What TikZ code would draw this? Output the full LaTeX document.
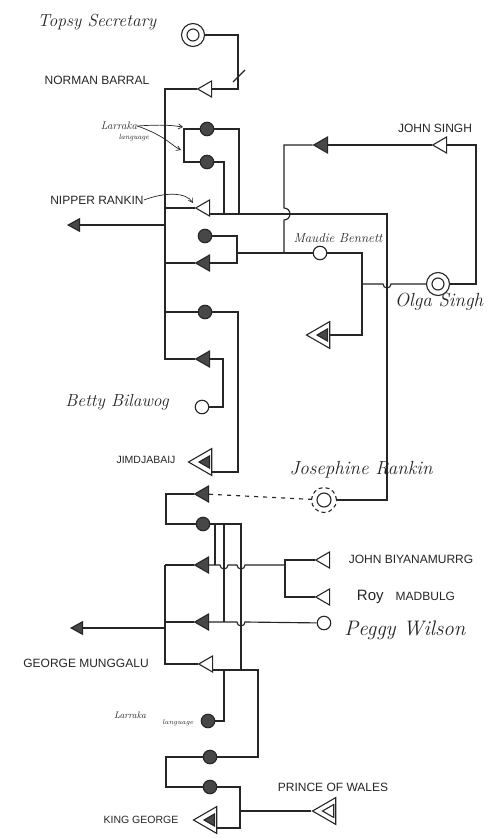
\documentclass[tikz,border=0pt]{standalone}
\usepackage{fontspec}
\setsansfont{Liberation Sans}
\usetikzlibrary{shapes.geometric,arrows.meta,calc}
\definecolor{ink}{HTML}{262626}
\definecolor{darkfill}{HTML}{474747}
\tikzset{
  ln/.style={draw=ink, line width=1.15pt},
  tri/.style={regular polygon, regular polygon sides=3, shape border rotate=90, draw=ink, line width=1.1pt, inner sep=0pt, minimum size=18.6pt, fill=white},
  opentri/.style={tri},
  darktri/.style={tri, fill=darkfill},
  bigtri/.style={tri, minimum size=31pt},
  innerdark/.style={tri, minimum size=14pt, fill=darkfill},
  inneropen/.style={tri, minimum size=15pt, fill=white},
  pcirc/.style={circle, draw=ink, line width=1.1pt, minimum size=13.5pt, inner sep=0pt},
  darkcirc/.style={pcirc, fill=darkfill},
  opencirc/.style={pcirc, fill=white},
  dblcirc/.style={circle, draw=ink, line width=1.1pt, minimum size=23pt, inner sep=0pt, fill=white,
     path picture={\draw[ink, line width=1.1pt] (path picture bounding box.center) circle (6pt);}},
  dashcirc/.style={circle, draw=ink, line width=1.1pt, dash pattern=on 4pt off 3pt, minimum size=25pt, inner sep=0pt, fill=white,
     path picture={\draw[ink, line width=1.1pt, solid] (path picture bounding box.center) circle (7pt);}},
  arr/.style={ln, -{Triangle[length=13pt,width=14pt,fill=darkfill]}},
  note/.style={draw=ink, line width=0.7pt, -{Straight Barb[length=4pt,width=5pt]}},
  caplab/.style={font=\sffamily\fontsize{12}{12}\selectfont, text=ink, inner sep=0pt},
  smallcap/.style={font=\sffamily\fontsize{10.5}{10.5}\selectfont, text=ink, inner sep=0pt},
  hand/.style={font=\itshape\fontsize{17.5}{17.5}\selectfont, text=ink, inner sep=0pt},
}
\begin{document}
\begin{tikzpicture}[x=1pt,y=-1pt]
\fill[white] (0,0) rectangle (491,838);
\useasboundingbox (0,0) rectangle (491,838);

% ---------- people ----------
\node[dblcirc] (topsy) at (193,35) {};
\node[opentri] (norman) at (207,89) {};
\node[darkcirc] (lar1) at (207,129) {};
\node[darkcirc] (lar2) at (207,162) {};
\node[opentri] (nipper) at (205,208) {};
\node[darkcirc] (dc1) at (205,236) {};
\node[darktri] (dt1) at (205,263) {};
\node[darkcirc] (dc2) at (205,312) {};
\node[darktri] (dt2) at (205,359) {};
\node[opencirc] (betty) at (202,407) {};
\node[bigtri] (jim) at (204,462) {};
\node[innerdark] (jimin) at (206,462) {};
\node[darktri] (jsd) at (323,145) {};
\node[opentri] (jsingh) at (442,145) {};
\node[opencirc] (maudie) at (320,253) {};
\node[dblcirc] (olga) at (438,284) {};
\node[bigtri] (mchild) at (322,335) {};
\node[innerdark] (mchildin) at (324,335) {};
\node[dashcirc] (jos) at (324,500) {};
\node[darktri] (bt0) at (204,494) {};
\node[darkcirc] (bc0) at (203,524) {};
\node[darktri] (bt1) at (204,565) {};
\node[opentri] (jb) at (325,560) {};
\node[opentri] (roy) at (325,597) {};
\node[darktri] (bt2) at (204,622) {};
\node[opencirc] (peggy) at (324,623) {};
\node[opentri] (george) at (208,664) {};
\node[darkcirc] (lar3) at (208,721) {};
\node[darkcirc] (bc1) at (210,757) {};
\node[darkcirc] (bc2) at (210,787) {};
\node[bigtri] (kg) at (209,820) {};
\node[innerdark] (kgin) at (211,820) {};
\node[bigtri] (pow) at (328,811) {};
\node[inneropen] (powin) at (330,811) {};

% ---------- labels ----------
\node[hand] (lTopsy) at (97,22) {Topsy Secretary};
\node[caplab] (lNorman) at (97,80) {NORMAN BARRAL};
\node[font=\itshape\fontsize{11}{11}\selectfont, text=ink, inner sep=0pt] (lLar1) at (119,126) {Larraka};
\node[font=\itshape\fontsize{7.5}{7.5}\selectfont, text=ink, inner sep=0pt] (lLang1) at (134,138) {language};
\node[caplab] (lNipper) at (97,200) {NIPPER RANKIN};
\node[caplab] (lJohnS) at (435,128) {JOHN SINGH};
\node[font=\itshape\fontsize{13}{13}\selectfont, text=ink, inner sep=0pt] (lMaudie) at (338,238) {Maudie Bennett};
\node[font=\itshape\fontsize{19}{19}\selectfont, text=ink, inner sep=0pt] (lOlga) at (439,302) {Olga Singh};
\node[hand] (lBetty) at (117,402) {Betty Bilawog};
\node[smallcap] (lJim) at (146,460) {JIMDJABAIJ};
\node[font=\itshape\fontsize{19}{19}\selectfont, text=ink, inner sep=0pt] (lJos) at (361,470) {Josephine Rankin};
\node[caplab] (lJB) at (411,559) {JOHN BIYANAMURRG};
\node[caplab] (lRoy) at (406,597) {{\fontsize{15}{15}\selectfont Roy}\quad MADBULG};
\node[font=\itshape\fontsize{21}{21}\selectfont, text=ink, inner sep=0pt] (lPeggy) at (405,630) {Peggy Wilson};
\node[caplab] (lGeorge) at (86,663) {GEORGE MUNGGALU};
\node[font=\itshape\fontsize{9.5}{9.5}\selectfont, text=ink, inner sep=0pt] (lLar2) at (130,715) {Larraka};
\node[font=\itshape\fontsize{7}{7}\selectfont, text=ink, inner sep=0pt] (lLang2) at (178,723) {language};
\node[caplab] (lPow) at (333,787) {PRINCE OF WALES};
\node[smallcap] (lKing) at (141,820) {KING GEORGE};

% ---------- annotations ----------
\draw[note] (lLar1.east) .. controls (167,124) and (175,126) .. (183,127);
\draw[note] (lLar1.east) .. controls (166,136) and (172,146) .. (181,150);
\draw[note] (lNipper.east) .. controls (165,192) and (186,192) .. (193,203);

% ---------- upper family ----------
\draw[ln] (topsy) -- (238,35) |- (norman);
\draw[ln] (233,82) -- (245,70);
\draw[ln] (norman) -| (165,359) -- (dt2);
\draw[ln] (165,208) -- (nipper);
\draw[ln] (lar1) -- (184,129) -- (184,162) -- (lar2);
\draw[ln] (lar1) -- (239,129) -- (239,214);
\draw[ln] (lar2) -- (224,162) -- (224,214);
\draw[ln] ([yshift=-6pt]nipper.east) -- (387,214) -- (387,500) -- (jos);
\coordinate (a1s) at (165,225);
\coordinate (a1e) at (67,225);
\draw[arr] (a1s) -- (a1e);
\draw[ln] (165,263) -- (dt1);
\draw[ln] (dc1) -- (237,236) -- (237,263) -- (dt1);
\draw[ln] (237,253) -- (maudie);
\draw[ln] (284,253) -- (284,220) arc[start angle=90, end angle=-90, radius=6] -- (284,145) -- (jsd);
\draw[ln] (jsd) -- (jsingh);
\draw[ln] (jsingh) -- (476,145) -- (476,284) -- (olga);
\draw[ln] (olga) -- (391,284) arc[start angle=0, end angle=180, radius=4] -- (362,284);
\draw[ln] (maudie) -- (362,253) -- (362,335) -- (mchild);
\draw[ln] (165,312) -- (dc2);
\draw[ln] (dc2) -- (238,312) -- (238,472) -- ([yshift=-10pt]jim.east);
\draw[ln] (dt2) -- (223,359) -- (223,407) -- (betty);

% ---------- lower family ----------
\draw[ln] (bt0) -- (166,494) -- (166,524) -- (bc0);
\draw[ln, dash pattern=on 4pt off 5pt] (bt0) -- (jos);
\draw[ln] (bc0) -- (241,524) -- (241,670);
\draw[ln] (215,524) -- (215,565);
\draw[ln] (224,524) -- (224,622);
\draw[ln] (165,565) -- (bt1);
\draw[ln] (bt1) -- (220,565) arc[start angle=180, end angle=0, radius=4] -- (237,565) arc[start angle=180, end angle=0, radius=4] -- (285,565);
\draw[ln] (jb) -- (285,560) -- (285,597) -- (roy);
\draw[ln] (165,622) -- (bt2);
\draw[ln] (bt2) -- (237,622) arc[start angle=180, end angle=0, radius=4] -- (peggy);
\coordinate (a2s) at (165,628);
\coordinate (a2e) at (70,628);
\draw[arr] (a2s) -- (a2e);
\draw[ln] (165,565) -- (165,664) -- (george);
\draw[ln] ([yshift=-6pt]george.east) -- (258,670) -- (258,757) -- (bc1);
\draw[ln] (224,670) -- (224,721) -- (lar3);
\draw[ln] (bc1) -- (166,757) -- (166,787) -- (bc2);
\draw[ln] (bc2) -- (240,787) -- (240,828) -- ([yshift=-8pt]kg.east);
\draw[ln] (240,811) -- (pow);
\end{tikzpicture}
\end{document}
